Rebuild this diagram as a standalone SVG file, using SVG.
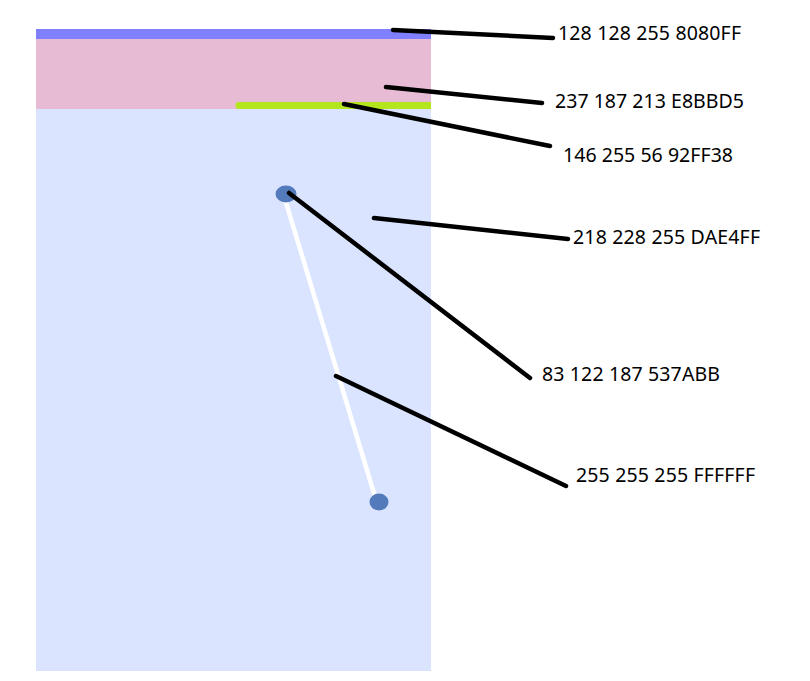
<svg xmlns="http://www.w3.org/2000/svg" width="810" height="681" viewBox="0 0 810 681">
<style>
.lbl{font-family:"Noto Sans","Liberation Sans",sans-serif;font-size:19.5px;fill:#000}
.lead{stroke:#000;stroke-width:4.5;stroke-linecap:round;fill:none}
.dot{fill:#537ABB}
</style>
<rect width="810" height="681" fill="#fff"/>
<g id="panel">
<rect x="36" y="109" width="395" height="562" fill="#DAE4FF"/>
<rect x="36" y="39" width="395" height="70" fill="#E8BBD5"/>
<rect x="36" y="29" width="395" height="10" fill="#8080FF"/>
<path d="M239 105.5 H431" stroke="#B4E61E" stroke-width="7" stroke-linecap="round"/>
<rect x="431" y="100" width="6" height="12" fill="#fff"/>
</g>
<g id="edge">
<line x1="284" y1="196" x2="376" y2="500" stroke="#fff" stroke-width="4.5" stroke-linecap="round"/>
</g>
<g id="node-a"><ellipse class="dot" cx="286" cy="194" rx="10.5" ry="8.5"/></g>
<g id="node-b"><ellipse class="dot" cx="379" cy="502" rx="9.5" ry="8.5"/></g>
<g id="connectors">
<line class="lead" x1="393" y1="30" x2="553" y2="38"/>
<line class="lead" x1="386" y1="87" x2="542" y2="103"/>
<line class="lead" x1="344" y1="104" x2="550" y2="146"/>
<line class="lead" x1="374" y1="218" x2="568" y2="239"/>
<line class="lead" x1="289" y1="193" x2="530" y2="378"/>
<line class="lead" x1="336" y1="376" x2="566" y2="486"/>
</g>
<g id="labels">
<text class="lbl" x="558" y="40" textLength="183" lengthAdjust="spacing">128 128 255 8080FF</text>
<text class="lbl" x="555" y="108" textLength="189" lengthAdjust="spacing">237 187 213 E8BBD5</text>
<text class="lbl" x="563" y="162" textLength="170" lengthAdjust="spacing">146 255 56 92FF38</text>
<text class="lbl" x="573" y="244" textLength="187" lengthAdjust="spacing">218 228 255 DAE4FF</text>
<text class="lbl" x="542" y="381" textLength="178" lengthAdjust="spacing">83 122 187 537ABB</text>
<text class="lbl" x="576" y="482" textLength="179" lengthAdjust="spacing">255 255 255 FFFFFF</text>
</g>
</svg>
